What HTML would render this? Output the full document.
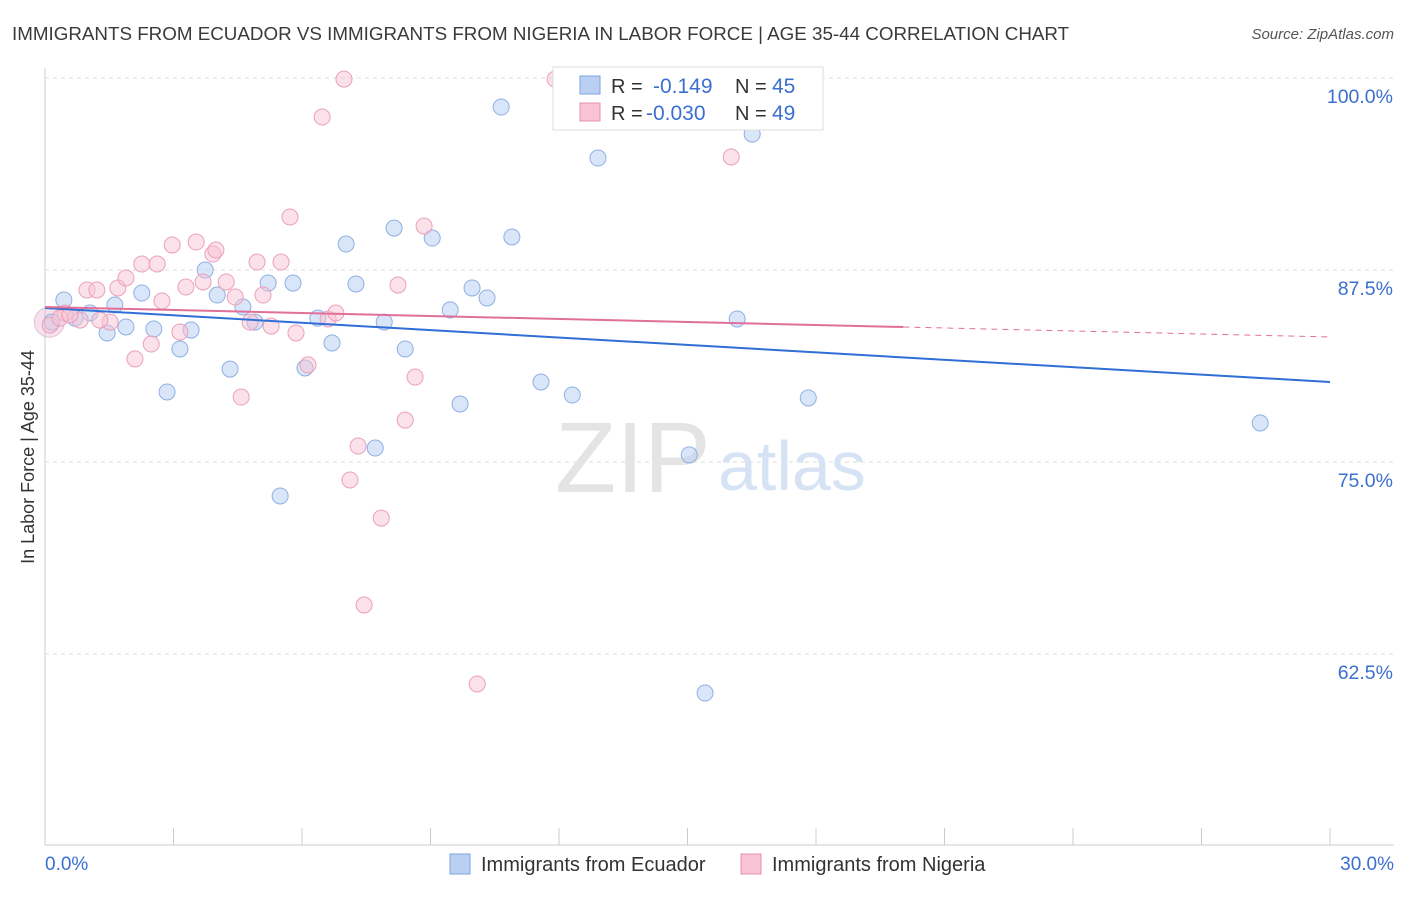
<!DOCTYPE html>
<html><head><meta charset="utf-8"><style>
body{margin:0;background:#fff;font-family:"Liberation Sans",sans-serif;}
svg text{font-family:"Liberation Sans",sans-serif;}
</style></head><body>
<svg id="chart" width="1406" height="892" viewBox="0 0 1406 892">
<text x="12" y="40" font-size="18.8" fill="#3a3a3a">IMMIGRANTS FROM ECUADOR VS IMMIGRANTS FROM NIGERIA IN LABOR FORCE | AGE 35-44 CORRELATION CHART</text>
<text x="1394" y="39" font-size="15" fill="#555" text-anchor="end" font-style="italic">Source: ZipAtlas.com</text>
<g id="grid"></g>
<text x="555" y="492" font-size="100" fill="#e4e4e4" font-family="Liberation Serif">ZIP</text>
<text x="718" y="490" font-size="70" fill="#d6e3f4">atlas</text>
<g id="axes"></g>
<g id="marks"></g>
<text transform="translate(34,457) rotate(-90)" font-size="18" fill="#333" text-anchor="middle">In Labor Force | Age 35-44</text>
<g>
<rect x="553" y="67" width="270" height="63" fill="#fff" stroke="#ddd"/>
<rect x="580" y="76" width="20" height="18" fill="#b9d0f2" stroke="#7ea3dd"/>
<rect x="580" y="103" width="20" height="18" fill="#f8c4d4" stroke="#e88fad"/>
<text x="611" y="93" font-size="20" fill="#333">R = </text><text x="653" y="93" font-size="21" fill="#3b6fd0">-0.149</text>
<text x="735" y="93" font-size="20" fill="#333">N = </text><text x="772" y="93" font-size="21" fill="#3b6fd0">45</text>
<text x="611" y="120" font-size="20" fill="#333">R = </text><text x="646" y="120" font-size="21" fill="#3b6fd0">-0.030</text>
<text x="735" y="120" font-size="20" fill="#333">N = </text><text x="772" y="120" font-size="21" fill="#3b6fd0">49</text>
</g>
<g>
<rect x="450" y="854" width="20" height="20" fill="#b9d0f2" stroke="#7ea3dd"/>
<text x="481" y="871" font-size="20" fill="#333">Immigrants from Ecuador</text>
<rect x="741" y="854" width="20" height="20" fill="#f8c4d4" stroke="#e88fad"/>
<text x="772" y="871" font-size="20" fill="#333">Immigrants from Nigeria</text>
</g>
</svg>
<script>
const ecuadorX=[0.44,1.05,1.63,1.89,2.26,2.54,2.85,3.15,3.41,3.74,4.02,4.32,4.62,4.90,5.21,5.49,5.79,6.07,6.37,6.70,7.03,7.26,7.71,7.92,8.15,8.41,9.04,9.46,9.69,9.97,10.32,10.65,10.90,11.58,12.31,12.91,15.04,15.41,16.16,16.51,17.82,28.37,0.16,0.70,1.45];
const ecuadorY=[85.55,84.70,85.22,83.79,86.00,83.66,79.56,82.36,83.59,87.5,85.87,81.05,85.09,84.11,86.65,72.79,86.65,81.12,84.37,82.75,89.19,86.59,75.91,84.11,90.23,82.36,89.58,84.90,78.78,86.33,85.68,98.11,89.65,80.21,79.36,94.79,75.46,59.96,84.31,96.35,79.17,77.54,84.11,84.37,83.40];
const nigeriaX=[0.12,0.47,0.82,0.98,1.21,1.52,1.70,1.89,2.10,2.26,2.48,2.62,2.73,2.97,3.15,3.29,3.53,3.69,3.92,3.99,4.23,4.44,4.58,4.79,4.95,5.09,5.28,5.51,5.72,5.86,6.14,6.47,6.61,6.79,6.98,7.12,7.31,7.45,7.85,8.24,8.41,8.64,8.85,10.09,11.91,16.02,1.28,0.35,0.58];
const nigeriaY=[83.92,84.70,84.24,86.20,86.20,84.11,86.33,86.98,81.71,87.89,82.68,87.89,85.48,89.13,83.46,86.39,89.32,86.72,88.54,88.80,86.72,85.74,79.23,84.11,88.02,85.87,83.85,88.02,90.95,83.40,81.32,97.46,84.31,84.70,99.93,73.83,76.04,65.69,71.35,86.52,77.73,80.53,90.36,60.55,99.93,94.86,84.24,84.37,84.57];
const ecuadorTrend=[85.03,80.21];
const nigeriaTrend=[85.09,83.14];
const nigeriaSolidEnd=20.04;
const yTicks=[100,87.5,75,62.5];
const xTickLabels=["0.0%","30.0%"];
const NS="http://www.w3.org/2000/svg";
const sx=v=>45+v/30*1285;
const sy=v=>78+(100-v)*15.36;
function mk(tag,attrs,parent){const e=document.createElementNS(NS,tag);for(const k in attrs)e.setAttribute(k,attrs[k]);parent.appendChild(e);return e;}
const grid=document.getElementById('grid'),axes=document.getElementById('axes'),marks=document.getElementById('marks');
yTicks.forEach(t=>{
 const l=mk('line',{x1:45,x2:1394,y1:sy(t),y2:sy(t),stroke:'#ddd','stroke-dasharray':'4,4'},grid);
 
 
 const tx=mk('text',{x:1393,y:sy(t)+25,'font-size':19.5,fill:'#3b6fd0','text-anchor':'end'},axes);
 tx.textContent=t.toFixed(1)+'%';
 
 
});
mk('line',{x1:45,x2:45,y1:68,y2:845,stroke:'#ccc'},axes);
mk('line',{x1:45,x2:1394,y1:845,y2:845,stroke:'#ccc'},axes);
for(let i=1;i<=10;i++){const x=sx(i*3);mk('line',{x1:x,x2:x,y1:828,y2:845,stroke:'#ccc'},axes);}
const xl0=mk('text',{x:45,y:870,'font-size':19,fill:'#3b6fd0'},axes);xl0.textContent=xTickLabels[0];


const xl1=mk('text',{x:1394,y:870,'font-size':19,fill:'#3b6fd0','text-anchor':'end'},axes);xl1.textContent=xTickLabels[1];


mk('circle',{cx:sx(0.1),cy:sy(84.1),r:15,fill:'rgba(230,170,200,0.35)',stroke:'rgba(200,150,190,0.5)'},marks);
ecuadorX.forEach((x,i)=>{const c=mk('circle',{cx:sx(x),cy:sy(ecuadorY[i]),r:8,fill:'rgba(185,208,242,0.55)',stroke:'#8fb0e3','stroke-width':1},marks);
 
 });
nigeriaX.forEach((x,i)=>{const c=mk('circle',{cx:sx(x),cy:sy(nigeriaY[i]),r:8,fill:'rgba(248,196,212,0.5)',stroke:'#eca0bb','stroke-width':1},marks);
 
 });
const et=mk('line',{x1:sx(0),y1:sy(ecuadorTrend[0]),x2:sx(30),y2:sy(ecuadorTrend[1]),stroke:'#2f6fd6','stroke-width':2},marks);


const nyEnd=nigeriaTrend[0]+(nigeriaTrend[1]-nigeriaTrend[0])*nigeriaSolidEnd/30;
const nt=mk('line',{x1:sx(0),y1:sy(nigeriaTrend[0]),x2:sx(nigeriaSolidEnd),y2:sy(nyEnd),stroke:'#e0709a','stroke-width':2},marks);


const nd=mk('line',{x1:sx(nigeriaSolidEnd),y1:sy(nyEnd),x2:sx(30),y2:sy(nigeriaTrend[1]),stroke:'#e0709a','stroke-width':1,'stroke-dasharray':'6,5'},marks);


</script>
</body></html>
